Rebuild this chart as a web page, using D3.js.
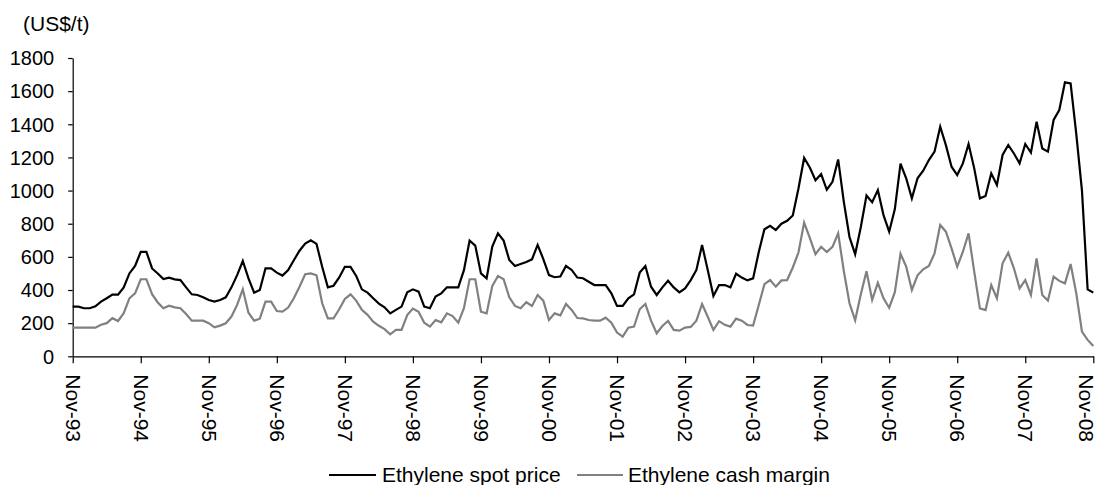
<!DOCTYPE html>
<html>
<head>
<meta charset="utf-8">
<script src="https://cdn.jsdelivr.net/npm/d3@7"></script>
<style>
  html, body { margin: 0; padding: 0; background: #fff; }
  svg { display: block; font-family: "Liberation Sans", Arial, sans-serif; }
</style>
</head>
<body>
<svg id="chart" width="1097" height="485"></svg>
<script>
// Monthly ethylene prices, Nov-93 .. Nov-08 (US$/t)
const spotPrice = [
  300,300,290,290,302,330,350,372,372,416,500,545,630,630,530,500,466,474,464,460,416,374,370,356,340,330,
  340,356,416,490,575,470,384,400,530,530,505,487,520,580,637,680,700,678,540,416,426,476,540,540,485,404,384,350,318,296,
  259,280,300,386,404,390,300,290,360,380,416,416,416,520,698,668,500,470,662,742,698,581,545,557,569,585,672,587,490,477,
  481,545,521,475,471,450,430,430,430,380,304,304,350,374,505,545,420,370,416,456,416,386,410,460,521,672,521,364,430,430,
  416,498,475,458,470,629,767,787,762,800,818,850,1013,1197,1139,1062,1100,1005,1053,1188,932,720,616,780,970,930,1003,852,752,888,
  1162,1074,953,1074,1120,1184,1235,1385,1274,1144,1094,1164,1281,1134,953,967,1104,1034,1215,1275,1224,1164,1281,1229,1416,1254,1235,1426,1486,1653,1647,1340,1000,404,384
];
const cashMargin = [
  173,173,173,173,173,190,200,230,213,260,350,380,465,465,375,325,290,305,295,290,255,215,215,215,200,175,
  185,199,240,310,404,263,215,227,330,330,273,270,294,350,420,495,500,489,320,229,229,284,346,374,336,280,250,209,184,164,
  133,159,159,249,288,269,203,179,219,205,259,243,203,290,465,465,269,259,424,485,465,356,304,290,326,304,370,336,219,259,
  247,316,280,231,229,219,215,215,233,203,143,119,173,179,284,316,215,139,183,213,159,155,173,177,215,316,239,159,212,190,
  179,227,215,189,185,310,435,460,420,458,460,536,626,807,715,616,660,629,660,742,515,320,217,375,513,340,443,350,293,387,
  619,541,400,489,525,545,621,792,752,651,541,631,742,511,289,279,430,350,561,625,531,410,460,370,591,370,336,481,455,440,557,380,149,99,62
];

const monthFmt = d3.timeFormat("%b-%y");
const months = d3.timeMonth.range(new Date(1993, 10, 1), new Date(2008, 11, 1)).map(monthFmt);
const xTickLabels = ["Nov-93","Nov-94","Nov-95","Nov-96","Nov-97","Nov-98","Nov-99","Nov-00",
                     "Nov-01","Nov-02","Nov-03","Nov-04","Nov-05","Nov-06","Nov-07","Nov-08"];
const yTicks = [0,200,400,600,800,1000,1200,1400,1600,1800];
const seriesNames = ["Ethylene spot price", "Ethylene cash margin"];
const seriesColors = ["#000000", "#808080"];

const svg = d3.select("#chart");
const plot = { left: 72.7, right: 1093.3, top: 58, bottom: 356.3 };

const x = d3.scalePoint().domain(months).range([plot.left, plot.right]).padding(0);
const y = d3.scaleLinear().domain([0, 1800]).range([plot.bottom, plot.top]);

// Y axis
const yAxis = svg.append("g")
  .attr("transform", `translate(${plot.left},0)`)
  .call(d3.axisLeft(y).tickValues(yTicks).tickFormat(d3.format("d"))
    .tickSize(4.5).tickPadding(14).tickSizeOuter(0));
yAxis.select(".domain").attr("stroke", "#000").attr("stroke-width", 1.2);
yAxis.selectAll(".tick line").attr("stroke", "#000").attr("stroke-width", 1.2);
yAxis.selectAll(".tick text")
  .attr("font-size", 20).attr("fill", "#000")
  .attr("font-family", "Liberation Sans, Arial, sans-serif")
  .attr("dy", "0.34em");

// X axis with yearly ticks and rotated labels
const xAxis = svg.append("g")
  .attr("transform", `translate(0,${plot.bottom})`)
  .call(d3.axisBottom(x).tickValues(xTickLabels).tickSize(7).tickSizeOuter(0));
xAxis.select(".domain").attr("stroke", "#000").attr("stroke-width", 1.2);
xAxis.selectAll(".tick line").attr("stroke", "#000").attr("stroke-width", 1.2);
xAxis.selectAll(".tick text")
  .attr("font-size", 21).attr("fill", "#000")
  .attr("font-family", "Liberation Sans, Arial, sans-serif")
  .attr("transform", "rotate(90)")
  .attr("text-anchor", "start")
  .attr("x", 18).attr("y", 0)
  // keep the last label inside the right edge of the page
  .attr("dy", (d, i, n) => i === n.length - 1 ? "0.7em" : "0.35em");

// Unit label
svg.append("text")
  .attr("x", 23).attr("y", 31)
  .attr("font-size", 21).attr("fill", "#000")
  .text("(US$/t)");

// Series lines
const line = d3.line()
  .x((d, i) => x(months[i]))
  .y(d => y(d));

[spotPrice, cashMargin].forEach((vals, k) => {
  svg.append("path")
    .datum(vals)
    .attr("fill", "none")
    .attr("stroke", seriesColors[k])
    .attr("stroke-width", 2.2)
    .attr("stroke-linejoin", "miter")
    .attr("d", line);
});

// Legend
const legendItems = [
  { x0: 329, x1: 376, tx: 382 },
  { x0: 577, x1: 623, tx: 628 }
];
legendItems.forEach((it, k) => {
  svg.append("line")
    .attr("x1", it.x0).attr("x2", it.x1)
    .attr("y1", 475).attr("y2", 475)
    .attr("stroke", seriesColors[k]).attr("stroke-width", 2.2);
  svg.append("text")
    .attr("x", it.tx).attr("y", 475).attr("dy", "0.35em")
    .attr("font-size", 21).attr("fill", "#000")
    .text(seriesNames[k]);
});
</script>
</body>
</html>
